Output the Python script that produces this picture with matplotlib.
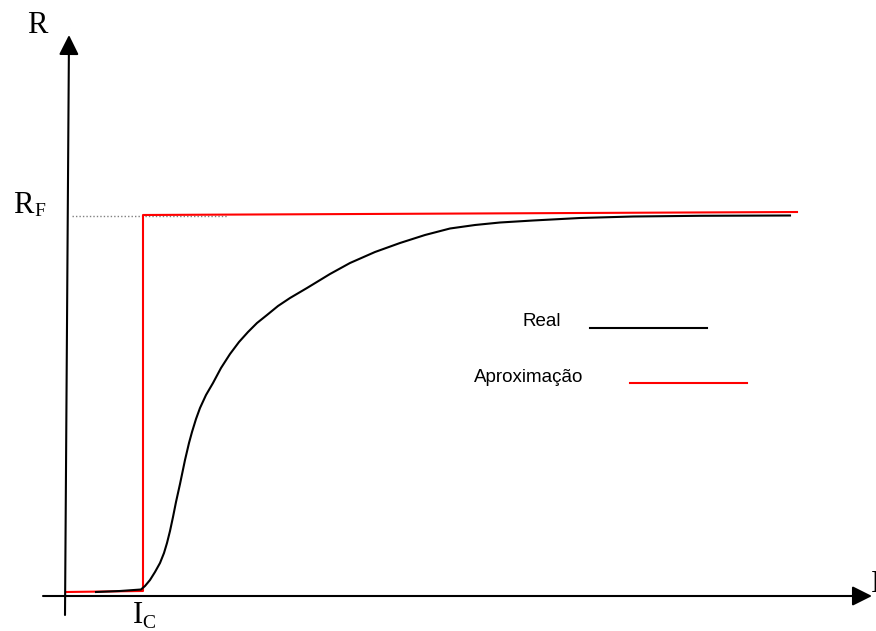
import matplotlib.pyplot as plt

# diagram coordinates (pixels of the original sketch, y grows downwards)
real_x = [96, 120, 141, 145, 150, 155, 160, 164, 167, 170, 173, 176, 180, 185,
          189, 192, 196, 200, 206, 213, 221, 230, 239, 248, 257, 267, 278, 290,
          307, 330, 350, 375, 400, 425, 450, 475, 500, 533, 580, 633, 700, 790]
real_y = [592, 591, 589.5, 586, 580, 572, 563, 553, 543, 531, 517, 502, 484, 460,
          443, 432, 419, 408, 395, 383, 368, 354, 342, 332, 323, 315, 306, 298,
          288, 274, 263, 252, 243, 235, 228.5, 225, 222.5, 220.5, 218, 216.5,
          215.8, 215.5]

approx_x = [66, 143, 143, 797]
approx_y = [592, 591, 215, 212]

rf_level = 215.5
legend_labels = ['Real', 'Aproximação']

fig = plt.figure(figsize=(8.76, 6.31), dpi=100)
ax = fig.add_axes([0, 0, 1, 1])
ax.set_xlim(0, 876)
ax.set_ylim(631, 0)
ax.axis('off')

# axes with arrows
arrow = dict(arrowstyle='-|>,head_length=0.6,head_width=0.3', lw=1.5,
             color='black', mutation_scale=20, shrinkA=0, shrinkB=0)
ax.annotate('', xy=(872, 596), xytext=(43, 596), arrowprops=arrow)
ax.annotate('', xy=(69, 35), xytext=(65, 615), arrowprops=arrow)

# dotted guide for R_F
ax.plot([72, 227], [rf_level, rf_level], color='grey', lw=1, ls=(0, (1, 1.5)))

ax.plot(approx_x, approx_y, color='red', lw=1.5)
ax.plot(real_x, real_y, color='black', lw=1.5, solid_joinstyle='round')

# legend drawn by hand like the sketch
ax.text(523, 322, legend_labels[0], fontsize=13.5, family='Liberation Sans',
        va='center', ha='left')
ax.plot([590, 707], [328, 328], color='black', lw=1.5)
ax.text(474, 378, legend_labels[1], fontsize=13.5, family='Liberation Sans',
        va='center', ha='left')
ax.plot([630, 747], [383, 383], color='red', lw=1.5)

serif = 'Liberation Serif'
ax.text(27, 33, 'R', fontsize=22, family=serif, va='baseline')
ax.text(13, 213, 'R', fontsize=22, family=serif, va='baseline')
ax.text(34, 216, 'F', fontsize=14, family=serif, va='baseline')
ax.text(133, 623, 'I', fontsize=22, family=serif, va='baseline')
ax.text(142, 628, 'C', fontsize=14, family=serif, va='baseline')
ax.text(871, 592, 'I', fontsize=22, family=serif, va='baseline')

fig.savefig('out.png', dpi=100)
